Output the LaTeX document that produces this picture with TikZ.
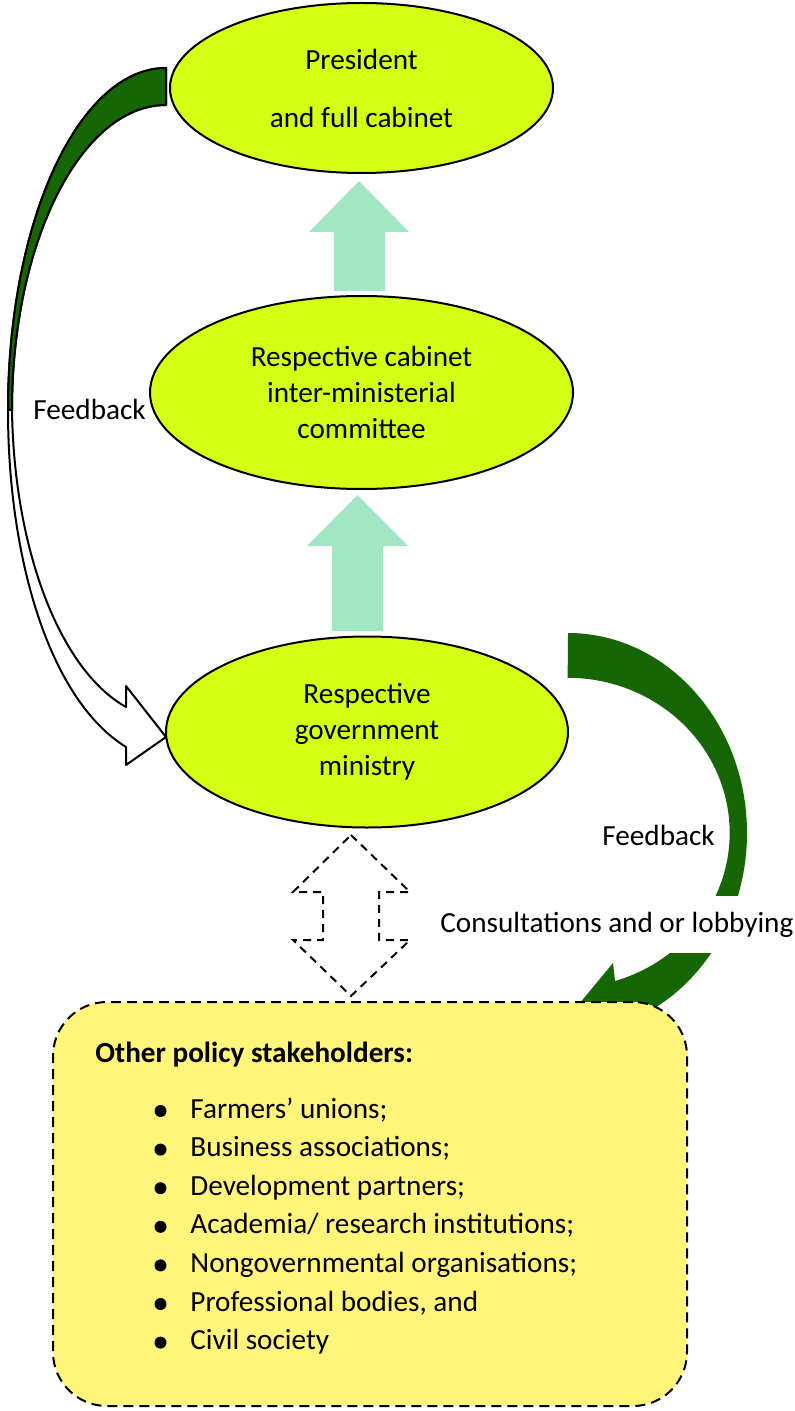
\documentclass[tikz,border=0pt]{standalone}
\usepackage{fontspec}
\setmainfont{Carlito}
\usepackage{tikz}
\usetikzlibrary{shapes.geometric}

\definecolor{lime}{RGB}{212,255,20}
\definecolor{mint}{RGB}{163,230,196}
\definecolor{darkleaf}{RGB}{22,102,5}
\definecolor{sand}{RGB}{255,245,122}

\begin{document}
\begin{tikzpicture}[x=0.5pt, y=-0.5pt,
    every node/.style={font=\fontsize{14.6}{18}\selectfont, inner sep=0pt},
    bubble/.style={ellipse, draw, line width=1pt, fill=lime, align=center},
    lift/.style={fill=mint},
    panel/.style={draw, line width=1pt, dash pattern=on 5pt off 3pt, fill=sand, rounded corners=27pt},
    hollow/.style={draw, line width=1pt, dash pattern=on 4pt off 3pt}]
    \useasboundingbox (0,0) rectangle (795,1411);

    % Feedback loop, left side
    \filldraw [fill=white, line width=1pt, line join=round]
        (166,68) .. controls (79,68) and (8,221) .. (8,410)
        .. controls (8,560) and (50,700) .. (126,747)
        -- (126,765) -- (166,737) -- (126,686) -- (126,707)
        .. controls (60,670) and (14,550) .. (12,410)
        .. controls (12,242) and (81,105) .. (166,105) -- cycle;
    \filldraw [fill=darkleaf, line width=1pt, line join=round]
        (166,68) .. controls (79,68) and (8,221) .. (8,410)
        -- (12,410) .. controls (12,242) and (81,105) .. (166,105) -- cycle;

    % Feedback loop, right side
    \fill [darkleaf] (568,633) arc [start angle=-90, end angle=73, x radius=179, y radius=200]
        -- (622,1044) -- (565,1021) -- (613,963) -- (615,981)
        arc [start angle=73, end angle=-90, x radius=162, y radius=155] -- cycle;

    % Upward block arrows
    \fill [lift] (334,291) -- (334,232) -- (309,232) -- (359,181) -- (409,232) -- (385,232) -- (385,291) -- cycle;
    \fill [lift] (332,631) -- (332,546) -- (307,546) -- (357.5,495) -- (408,546) -- (383,546) -- (383,631) -- cycle;

    \node [bubble, minimum width=191.5pt, minimum height=85pt] (president) at (361.5,88)
        {President\\[11pt]and full cabinet};
    \node [bubble, minimum width=211.5pt, minimum height=96.5pt] (committee) at (361.5,392.5)
        {Respective cabinet\\inter-ministerial\\committee};
    \node [bubble, minimum width=201pt, minimum height=95.5pt] (ministry) at (367,732)
        {Respective\\government\\ministry};

    % Two-way dashed arrow
    \draw [hollow] (351,835) -- (410,892) -- (379,892) -- (379,940) -- (410,940) -- (351,996)
        -- (293,940) -- (323,940) -- (323,892) -- (293,892) -- cycle;

    \node [panel, minimum width=317pt, minimum height=202pt] (stakeholders) at (370,1204) {};
    \node [anchor=base west] (stake_title) at (95,1062) {\bfseries Other policy stakeholders:};
    \foreach \item [count=\i from 0] in {Farmers’ unions;, Business associations;,
        Development partners;, Academia/ research institutions;,
        Nongovernmental organisations;, {Professional bodies, and}, Civil society} {
        \fill (160.5,1118+38.6*\i-7) circle (6);
        \node [anchor=base west] (item_\i) at (190,1118+38.6*\i) {\item};
    }

    % Labels
    \node [anchor=base west] (feedback_left) at (33,420) {Feedback};
    \node [anchor=base west] (feedback_right) at (602,845) {Feedback};
    \node [anchor=base west, fill=white, inner xsep=2pt, inner ysep=8pt] (lobbying) at (436,932)
        {Consultations and or lobbying};
\end{tikzpicture}
\end{document}
